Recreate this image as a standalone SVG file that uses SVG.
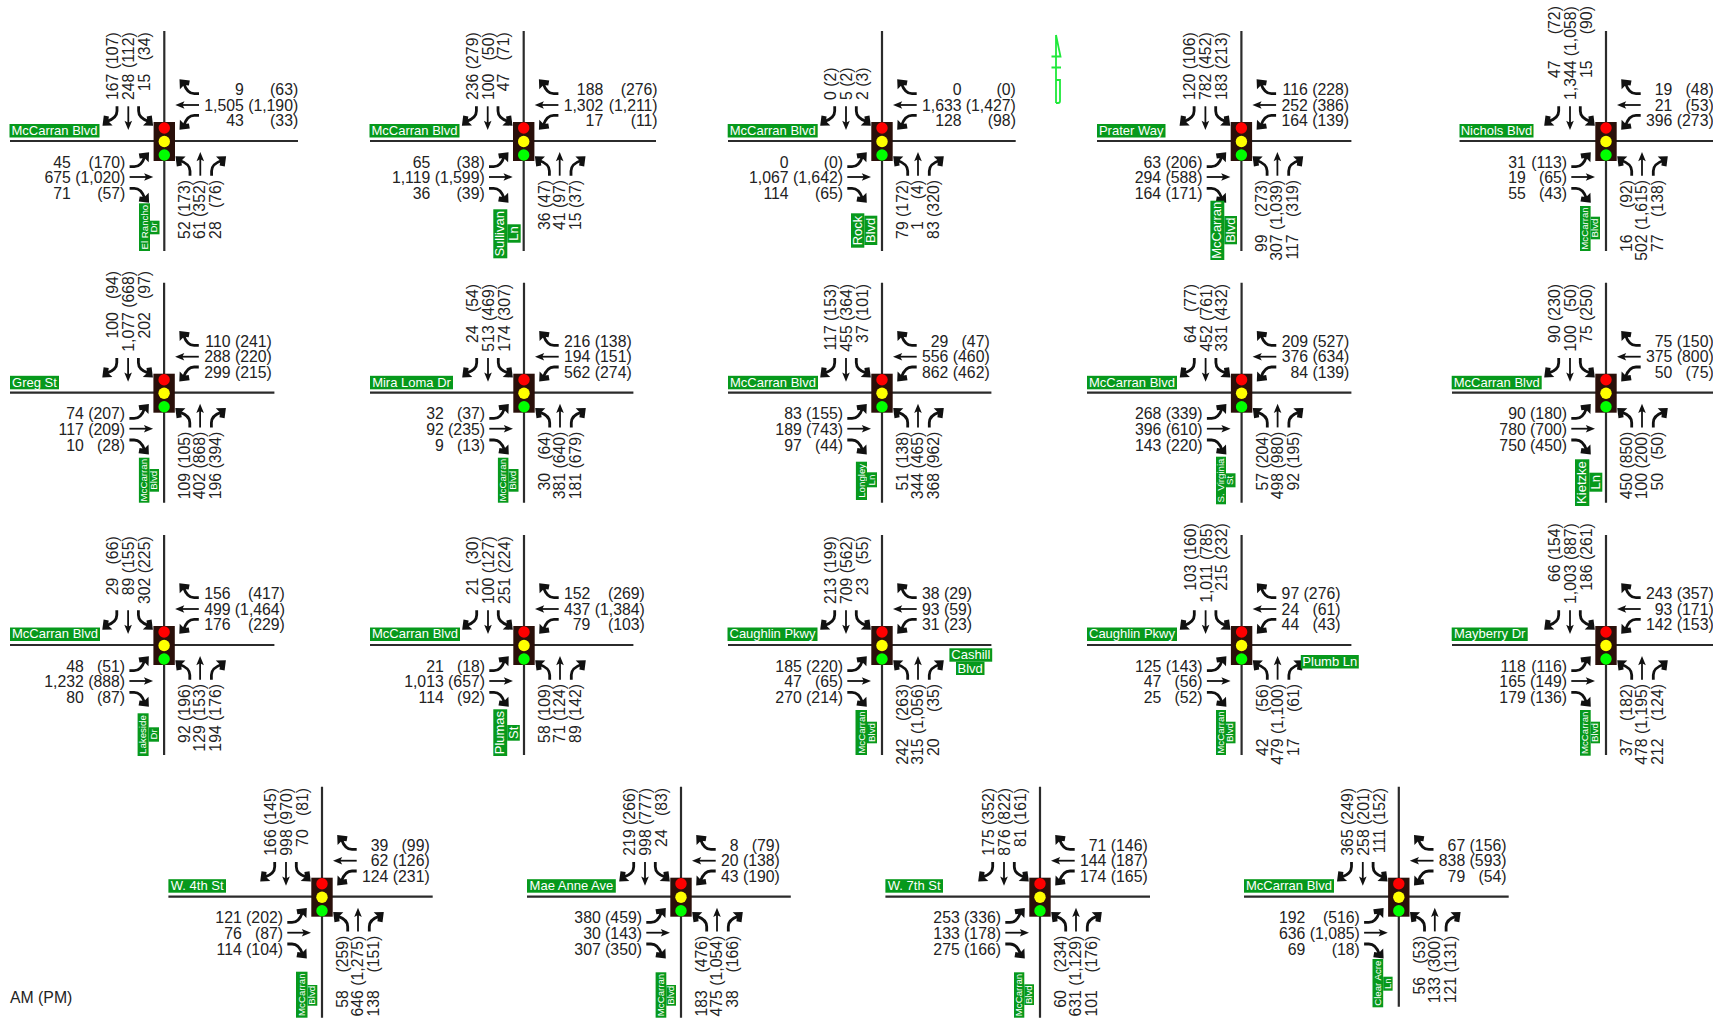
<svg xmlns="http://www.w3.org/2000/svg" width="1713" height="1022" viewBox="0 0 1713 1022">
<style>
text{font-family:"Liberation Sans",Arial,sans-serif}
.v text{font-size:15.8px;fill:#222;text-anchor:end}
.r{transform:rotate(-90deg)}
.g{fill:#07991c}
.l,.s{fill:#fff;text-anchor:middle}
.l{font-size:13px}
.s{font-size:9.7px}
.road{fill:none;stroke:#2b2b2b;stroke-width:2.2}
.sh{fill:none;stroke:#111;stroke-width:2.8}
.sm{fill:none;stroke:#111;stroke-width:1.8}
.hd{fill:#111}
</style>
<defs>
<g id="ap">
<path class="sh" d="M25.7 34.7V30C25.7 25 23 22 15.5 19.5"/><path class="hd" d="M11.2 15.2L21.3 15.6L17 19.8L17.6 24.6L12.5 25.5Z"/>
<path class="sm" d="M36 34.7V16"/><path class="hd" d="M36 11L39.8 20.2L36 18.2L32.2 20.2Z"/>
<path class="sh" d="M47.3 34.7V30C47.3 25 50 22 57.5 19.5"/><path class="hd" d="M61.8 15.2L51.7 15.6L56 19.8L55.4 24.6L60.5 25.5Z"/>
</g>
<g id="mov"><use href="#ap"/><use href="#ap" transform="rotate(90)"/><use href="#ap" transform="rotate(180)"/><use href="#ap" transform="rotate(270)"/></g>
<g id="sig"><rect x="-10.7" y="-19" width="21.4" height="39" fill="#2a100a"/><circle cy="-13" r="5.7" fill="#f00"/><circle cy="0.5" r="5.7" fill="#ff0"/><circle cy="14" r="5.7" fill="#0f0"/></g>
</defs>
<g id="north-arrow" fill="none" stroke="#1fe83a" stroke-width="1.8"><path d="M1056 35V103M1056 35L1060.5 56.5H1051.5M1051.5 67.5H1061M1056 80H1060V101Q1060 103 1058 103H1056"/></g>
<g id="connectors">
<path class="road" d="M164.3 31V251M10 141H298"/><use href="#mov" x="164.3" y="141"/>
<path class="road" d="M523.7 31V251M370 141H656"/><use href="#mov" x="523.7" y="141"/>
<path class="road" d="M882 31V251M728 141H1015.7"/><use href="#mov" x="882" y="141"/>
<path class="road" d="M1241.4 31V251M1097 141H1351.4"/><use href="#mov" x="1241.4" y="141"/>
<path class="road" d="M1606 31V251M1459.5 141H1713"/><use href="#mov" x="1606" y="141"/>
<path class="road" d="M164.1 282.7V502.7M10 392.7H274.4"/><use href="#mov" x="164.1" y="392.7"/>
<path class="road" d="M524 282.7V502.7M370 392.7H633.4"/><use href="#mov" x="524" y="392.7"/>
<path class="road" d="M882 282.7V502.7M728 392.7H991.4"/><use href="#mov" x="882" y="392.7"/>
<path class="road" d="M1241.6 282.7V502.7M1087 392.7H1351.4"/><use href="#mov" x="1241.6" y="392.7"/>
<path class="road" d="M1606 282.7V502.7M1452 392.7H1713"/><use href="#mov" x="1606" y="392.7"/>
<path class="road" d="M164.1 535V755M10 645H274.4"/><use href="#mov" x="164.1" y="645"/>
<path class="road" d="M524 535V755M370 645H633.4"/><use href="#mov" x="524" y="645"/>
<path class="road" d="M882 535V755M728 645H991.4"/><use href="#mov" x="882" y="645"/>
<path class="road" d="M1241.6 535V755M1087 645H1351.4"/><use href="#mov" x="1241.6" y="645"/>
<path class="road" d="M1606 535V755M1452 645H1713"/><use href="#mov" x="1606" y="645"/>
<path class="road" d="M322 786.7V1017.7M168.4 896.7H432.7"/><use href="#mov" x="322" y="896.7"/>
<path class="road" d="M681 786.7V1017.7M527 896.7H790.8"/><use href="#mov" x="681" y="896.7"/>
<path class="road" d="M1040 786.7V1017.7M885.4 896.7H1150"/><use href="#mov" x="1040" y="896.7"/>
<path class="road" d="M1398.8 786.7V1006.7M1244 896.7H1508.7"/><use href="#mov" x="1398.8" y="896.7"/>
</g>

<g id="n1"><g class="v" transform="translate(164.3,141)"><use href="#sig"/>
<g class="r"><text x="67.4" y="-46">167</text><text x="108.7" y="-46">(107)</text><text x="67.4" y="-30">248</text><text x="108.7" y="-30">(112)</text><text x="67.4" y="-14.3">15</text><text x="108.7" y="-14.3">(34)</text>
<text x="-80.3" y="26">52</text><text x="-39" y="26">(173)</text><text x="-80.3" y="41">61</text><text x="-39" y="41">(352)</text><text x="-80.3" y="57">28</text><text x="-39" y="57">(76)</text></g>
<text x="79.5" y="-46">9</text><text x="133.9" y="-46">(63)</text><text x="79.5" y="-30.5">1,505</text><text x="133.9" y="-30.5">(1,190)</text><text x="79.5" y="-15">43</text><text x="133.9" y="-15">(33)</text>
<text x="-93.4" y="26.7">45</text><text x="-39" y="26.7">(170)</text><text x="-93.4" y="42.3">675</text><text x="-39" y="42.3">(1,020)</text><text x="-93.4" y="58">71</text><text x="-39" y="58">(57)</text></g>
<rect class="g" x="9.5" y="124" width="90" height="13.5"/><text class="l" x="54.5" y="135">McCarran Blvd</text>
<rect class="g" x="139" y="203.3" width="11" height="47.7"/><text class="s" transform="translate(147.6,227.2) rotate(-90)">El Rancho</text>
<rect class="g" x="150" y="220.7" width="9.5" height="13.6"/><text class="s" transform="translate(157.3,227.5) rotate(-90)">Dr</text></g>

<g id="n2"><g class="v" transform="translate(523.7,141)"><use href="#sig"/>
<g class="r"><text x="67.4" y="-46">236</text><text x="108.7" y="-46">(279)</text><text x="67.4" y="-30">100</text><text x="108.7" y="-30">(50)</text><text x="67.4" y="-14.3">47</text><text x="108.7" y="-14.3">(71)</text>
<text x="-71.5" y="26">36</text><text x="-39" y="26">(47)</text><text x="-71.5" y="41">41</text><text x="-39" y="41">(97)</text><text x="-71.5" y="57">15</text><text x="-39" y="57">(37)</text></g>
<text x="79.5" y="-46">188</text><text x="133.9" y="-46">(276)</text><text x="79.5" y="-30.5">1,302</text><text x="133.9" y="-30.5">(1,211)</text><text x="79.5" y="-15">17</text><text x="133.9" y="-15">(11)</text>
<text x="-93.4" y="26.7">65</text><text x="-39" y="26.7">(38)</text><text x="-93.4" y="42.3">1,119</text><text x="-39" y="42.3">(1,599)</text><text x="-93.4" y="58">36</text><text x="-39" y="58">(39)</text></g>
<rect class="g" x="369.5" y="124" width="90" height="13.5"/><text class="l" x="414.5" y="135">McCarran Blvd</text>
<rect class="g" x="493.3" y="209.3" width="14" height="49"/><text class="l" transform="translate(504.3,233.8) rotate(-90)">Sullivan</text>
<rect class="g" x="507.3" y="224.3" width="13.4" height="18.4"/><text class="l" transform="translate(518,233.5) rotate(-90)">Ln</text></g>

<g id="n3"><g class="v" transform="translate(882,141)"><use href="#sig"/>
<g class="r"><text x="49.8" y="-46">0</text><text x="73.5" y="-46">(2)</text><text x="49.8" y="-30">5</text><text x="73.5" y="-30">(2)</text><text x="49.8" y="-14.3">2</text><text x="73.5" y="-14.3">(3)</text>
<text x="-80.3" y="26">79</text><text x="-39" y="26">(172)</text><text x="-80.3" y="41">1</text><text x="-39" y="41">(4)</text><text x="-80.3" y="57">83</text><text x="-39" y="57">(320)</text></g>
<text x="79.5" y="-46">0</text><text x="133.9" y="-46">(0)</text><text x="79.5" y="-30.5">1,633</text><text x="133.9" y="-30.5">(1,427)</text><text x="79.5" y="-15">128</text><text x="133.9" y="-15">(98)</text>
<text x="-93.4" y="26.7">0</text><text x="-39" y="26.7">(0)</text><text x="-93.4" y="42.3">1,067</text><text x="-39" y="42.3">(1,642)</text><text x="-93.4" y="58">114</text><text x="-39" y="58">(65)</text></g>
<rect class="g" x="727.7" y="124" width="90" height="13.5"/><text class="l" x="772.7" y="135">McCarran Blvd</text>
<rect class="g" x="851" y="213.3" width="13.3" height="34.4"/><text class="l" transform="translate(861.5,230.5) rotate(-90)">Rock</text>
<rect class="g" x="864.3" y="215.7" width="13" height="29.3"/><text class="l" transform="translate(875,230.4) rotate(-90)">Blvd</text></g>

<g id="n4"><g class="v" transform="translate(1241.4,141)"><use href="#sig"/>
<g class="r"><text x="67.4" y="-46">120</text><text x="108.7" y="-46">(106)</text><text x="67.4" y="-30">782</text><text x="108.7" y="-30">(452)</text><text x="67.4" y="-14.3">183</text><text x="108.7" y="-14.3">(213)</text>
<text x="-93.4" y="26">99</text><text x="-39" y="26">(273)</text><text x="-93.4" y="41">307</text><text x="-39" y="41">(1,039)</text><text x="-93.4" y="57">117</text><text x="-39" y="57">(319)</text></g>
<text x="66.4" y="-46">116</text><text x="107.7" y="-46">(228)</text><text x="66.4" y="-30.5">252</text><text x="107.7" y="-30.5">(386)</text><text x="66.4" y="-15">164</text><text x="107.7" y="-15">(139)</text>
<text x="-80.3" y="26.7">63</text><text x="-39" y="26.7">(206)</text><text x="-80.3" y="42.3">294</text><text x="-39" y="42.3">(588)</text><text x="-80.3" y="58">164</text><text x="-39" y="58">(171)</text></g>
<rect class="g" x="1097" y="124" width="68.5" height="13.5"/><text class="l" x="1131.2" y="135">Prater Way</text>
<rect class="g" x="1210.4" y="200.7" width="13.9" height="59.3"/><text class="l" transform="translate(1221.3,230.3) rotate(-90)">McCarran</text>
<rect class="g" x="1224.3" y="216" width="12.7" height="28.3"/><text class="l" transform="translate(1234.7,230.2) rotate(-90)">Blvd</text></g>

<g id="n5"><g class="v" transform="translate(1606,141)"><use href="#sig"/>
<g class="r"><text x="80.5" y="-46">47</text><text x="134.9" y="-46">(72)</text><text x="80.5" y="-30">1,344</text><text x="134.9" y="-30">(1,058)</text><text x="80.5" y="-14.3">15</text><text x="134.9" y="-14.3">(90)</text>
<text x="-93.4" y="26">16</text><text x="-39" y="26">(92)</text><text x="-93.4" y="41">502</text><text x="-39" y="41">(1,615)</text><text x="-93.4" y="57">77</text><text x="-39" y="57">(138)</text></g>
<text x="66.4" y="-46">19</text><text x="107.7" y="-46">(48)</text><text x="66.4" y="-30.5">21</text><text x="107.7" y="-30.5">(53)</text><text x="66.4" y="-15">396</text><text x="107.7" y="-15">(273)</text>
<text x="-80.3" y="26.7">31</text><text x="-39" y="26.7">(113)</text><text x="-80.3" y="42.3">19</text><text x="-39" y="42.3">(65)</text><text x="-80.3" y="58">55</text><text x="-39" y="58">(43)</text></g>
<rect class="g" x="1459.5" y="124" width="74" height="13.5"/><text class="l" x="1496.5" y="135">Nichols Blvd</text>
<rect class="g" x="1580" y="206" width="10.6" height="45"/><text class="s" transform="translate(1588.3,228.5) rotate(-90)">McCarran</text>
<rect class="g" x="1590.6" y="216.7" width="9.4" height="22.6"/><text class="s" transform="translate(1597.9,228) rotate(-90)">Blvd</text></g>

<g id="n6"><g class="v" transform="translate(164.1,392.7)"><use href="#sig"/>
<g class="r"><text x="80.5" y="-46">100</text><text x="121.8" y="-46">(94)</text><text x="80.5" y="-30">1,077</text><text x="121.8" y="-30">(668)</text><text x="80.5" y="-14.3">202</text><text x="121.8" y="-14.3">(97)</text>
<text x="-80.3" y="26">109</text><text x="-39" y="26">(105)</text><text x="-80.3" y="41">402</text><text x="-39" y="41">(868)</text><text x="-80.3" y="57">196</text><text x="-39" y="57">(394)</text></g>
<text x="66.4" y="-46">110</text><text x="107.7" y="-46">(241)</text><text x="66.4" y="-30.5">288</text><text x="107.7" y="-30.5">(220)</text><text x="66.4" y="-15">299</text><text x="107.7" y="-15">(215)</text>
<text x="-80.3" y="26.7">74</text><text x="-39" y="26.7">(207)</text><text x="-80.3" y="42.3">117</text><text x="-39" y="42.3">(209)</text><text x="-80.3" y="58">10</text><text x="-39" y="58">(28)</text></g>
<rect class="g" x="10" y="375.8" width="49" height="13.5"/><text class="l" x="34.5" y="386.7">Greg St</text>
<rect class="g" x="138.9" y="457.7" width="10.5" height="45"/><text class="s" transform="translate(147.1,480.2) rotate(-90)">McCarran</text>
<rect class="g" x="149.4" y="469" width="9.6" height="22.7"/><text class="s" transform="translate(156.8,480.3) rotate(-90)">Blvd</text></g>

<g id="n7"><g class="v" transform="translate(524,392.7)"><use href="#sig"/>
<g class="r"><text x="67.4" y="-46">24</text><text x="108.7" y="-46">(54)</text><text x="67.4" y="-30">513</text><text x="108.7" y="-30">(469)</text><text x="67.4" y="-14.3">174</text><text x="108.7" y="-14.3">(307)</text>
<text x="-80.3" y="26">30</text><text x="-39" y="26">(64)</text><text x="-80.3" y="41">381</text><text x="-39" y="41">(640)</text><text x="-80.3" y="57">181</text><text x="-39" y="57">(679)</text></g>
<text x="66.4" y="-46">216</text><text x="107.7" y="-46">(138)</text><text x="66.4" y="-30.5">194</text><text x="107.7" y="-30.5">(151)</text><text x="66.4" y="-15">562</text><text x="107.7" y="-15">(274)</text>
<text x="-80.3" y="26.7">32</text><text x="-39" y="26.7">(37)</text><text x="-80.3" y="42.3">92</text><text x="-39" y="42.3">(235)</text><text x="-80.3" y="58">9</text><text x="-39" y="58">(13)</text></g>
<rect class="g" x="370" y="375.8" width="83" height="13.5"/><text class="l" x="411.5" y="386.7">Mira Loma Dr</text>
<rect class="g" x="497.9" y="457.7" width="10.5" height="45"/><text class="s" transform="translate(506.1,480.2) rotate(-90)">McCarran</text>
<rect class="g" x="508.4" y="469" width="10.1" height="22.7"/><text class="s" transform="translate(516.2,480.3) rotate(-90)">Blvd</text></g>

<g id="n8"><g class="v" transform="translate(882,392.7)"><use href="#sig"/>
<g class="r"><text x="67.4" y="-46">117</text><text x="108.7" y="-46">(153)</text><text x="67.4" y="-30">455</text><text x="108.7" y="-30">(364)</text><text x="67.4" y="-14.3">37</text><text x="108.7" y="-14.3">(101)</text>
<text x="-80.3" y="26">51</text><text x="-39" y="26">(138)</text><text x="-80.3" y="41">344</text><text x="-39" y="41">(465)</text><text x="-80.3" y="57">368</text><text x="-39" y="57">(962)</text></g>
<text x="66.4" y="-46">29</text><text x="107.7" y="-46">(47)</text><text x="66.4" y="-30.5">556</text><text x="107.7" y="-30.5">(460)</text><text x="66.4" y="-15">862</text><text x="107.7" y="-15">(462)</text>
<text x="-80.3" y="26.7">83</text><text x="-39" y="26.7">(155)</text><text x="-80.3" y="42.3">189</text><text x="-39" y="42.3">(743)</text><text x="-80.3" y="58">97</text><text x="-39" y="58">(44)</text></g>
<rect class="g" x="728" y="375.8" width="90" height="13.5"/><text class="l" x="773" y="386.7">McCarran Blvd</text>
<rect class="g" x="855.9" y="461.7" width="11.1" height="38.3"/><text class="s" transform="translate(864.7,480.8) rotate(-90)">Longley</text>
<rect class="g" x="867" y="472.3" width="10" height="15"/><text class="s" transform="translate(874.7,480) rotate(-90)">Ln</text></g>

<g id="n9"><g class="v" transform="translate(1241.6,392.7)"><use href="#sig"/>
<g class="r"><text x="67.4" y="-46">64</text><text x="108.7" y="-46">(77)</text><text x="67.4" y="-30">452</text><text x="108.7" y="-30">(761)</text><text x="67.4" y="-14.3">331</text><text x="108.7" y="-14.3">(432)</text>
<text x="-80.3" y="26">57</text><text x="-39" y="26">(204)</text><text x="-80.3" y="41">498</text><text x="-39" y="41">(980)</text><text x="-80.3" y="57">92</text><text x="-39" y="57">(195)</text></g>
<text x="66.4" y="-46">209</text><text x="107.7" y="-46">(527)</text><text x="66.4" y="-30.5">376</text><text x="107.7" y="-30.5">(634)</text><text x="66.4" y="-15">84</text><text x="107.7" y="-15">(139)</text>
<text x="-80.3" y="26.7">268</text><text x="-39" y="26.7">(339)</text><text x="-80.3" y="42.3">396</text><text x="-39" y="42.3">(610)</text><text x="-80.3" y="58">143</text><text x="-39" y="58">(220)</text></g>
<rect class="g" x="1087" y="375.8" width="90" height="13.5"/><text class="l" x="1132" y="386.7">McCarran Blvd</text>
<rect class="g" x="1216" y="456.7" width="10" height="47.6"/><text class="s" transform="translate(1224,480.5) rotate(-90)">S. Virginia</text>
<rect class="g" x="1226" y="473.3" width="9.5" height="14"/><text class="s" transform="translate(1233.3,480.3) rotate(-90)">St</text></g>

<g id="n10"><g class="v" transform="translate(1606,392.7)"><use href="#sig"/>
<g class="r"><text x="67.4" y="-46">90</text><text x="108.7" y="-46">(230)</text><text x="67.4" y="-30">100</text><text x="108.7" y="-30">(50)</text><text x="67.4" y="-14.3">75</text><text x="108.7" y="-14.3">(250)</text>
<text x="-80.3" y="26">450</text><text x="-39" y="26">(850)</text><text x="-80.3" y="41">100</text><text x="-39" y="41">(200)</text><text x="-80.3" y="57">50</text><text x="-39" y="57">(50)</text></g>
<text x="66.4" y="-46">75</text><text x="107.7" y="-46">(150)</text><text x="66.4" y="-30.5">375</text><text x="107.7" y="-30.5">(800)</text><text x="66.4" y="-15">50</text><text x="107.7" y="-15">(75)</text>
<text x="-80.3" y="26.7">90</text><text x="-39" y="26.7">(180)</text><text x="-80.3" y="42.3">780</text><text x="-39" y="42.3">(700)</text><text x="-80.3" y="58">750</text><text x="-39" y="58">(450)</text></g>
<rect class="g" x="1451.7" y="375.8" width="90" height="13.5"/><text class="l" x="1496.7" y="386.7">McCarran Blvd</text>
<rect class="g" x="1575" y="459.3" width="14.3" height="46.7"/><text class="l" transform="translate(1586,482.6) rotate(-90)">Kietzke</text>
<rect class="g" x="1589.3" y="472.7" width="13" height="19"/><text class="l" transform="translate(1599.5,482.2) rotate(-90)">Ln</text></g>

<g id="n11"><g class="v" transform="translate(164.1,645)"><use href="#sig"/>
<g class="r"><text x="67.4" y="-46">29</text><text x="108.7" y="-46">(66)</text><text x="67.4" y="-30">89</text><text x="108.7" y="-30">(155)</text><text x="67.4" y="-14.3">302</text><text x="108.7" y="-14.3">(225)</text>
<text x="-80.3" y="26">92</text><text x="-39" y="26">(196)</text><text x="-80.3" y="41">129</text><text x="-39" y="41">(153)</text><text x="-80.3" y="57">194</text><text x="-39" y="57">(176)</text></g>
<text x="66.4" y="-46">156</text><text x="120.8" y="-46">(417)</text><text x="66.4" y="-30.5">499</text><text x="120.8" y="-30.5">(1,464)</text><text x="66.4" y="-15">176</text><text x="120.8" y="-15">(229)</text>
<text x="-80.3" y="26.7">48</text><text x="-39" y="26.7">(51)</text><text x="-80.3" y="42.3">1,232</text><text x="-39" y="42.3">(888)</text><text x="-80.3" y="58">80</text><text x="-39" y="58">(87)</text></g>
<rect class="g" x="10" y="627.5" width="90" height="13.5"/><text class="l" x="55" y="638">McCarran Blvd</text>
<rect class="g" x="137.6" y="713.3" width="11" height="42.7"/><text class="s" transform="translate(146.3,734.6) rotate(-90)">Lakeside</text>
<rect class="g" x="148.6" y="727.3" width="10.4" height="14.4"/><text class="s" transform="translate(156.6,734.5) rotate(-90)">Dr</text></g>

<g id="n12"><g class="v" transform="translate(524,645)"><use href="#sig"/>
<g class="r"><text x="67.4" y="-46">21</text><text x="108.7" y="-46">(30)</text><text x="67.4" y="-30">100</text><text x="108.7" y="-30">(127)</text><text x="67.4" y="-14.3">251</text><text x="108.7" y="-14.3">(224)</text>
<text x="-80.3" y="26">58</text><text x="-39" y="26">(109)</text><text x="-80.3" y="41">71</text><text x="-39" y="41">(124)</text><text x="-80.3" y="57">89</text><text x="-39" y="57">(142)</text></g>
<text x="66.4" y="-46">152</text><text x="120.8" y="-46">(269)</text><text x="66.4" y="-30.5">437</text><text x="120.8" y="-30.5">(1,384)</text><text x="66.4" y="-15">79</text><text x="120.8" y="-15">(103)</text>
<text x="-80.3" y="26.7">21</text><text x="-39" y="26.7">(18)</text><text x="-80.3" y="42.3">1,013</text><text x="-39" y="42.3">(657)</text><text x="-80.3" y="58">114</text><text x="-39" y="58">(92)</text></g>
<rect class="g" x="370" y="627.5" width="90" height="13.5"/><text class="l" x="415" y="638">McCarran Blvd</text>
<rect class="g" x="493.3" y="709.3" width="13.9" height="46.7"/><text class="l" transform="translate(504.2,732.6) rotate(-90)">Plumas</text>
<rect class="g" x="507.2" y="725" width="12.6" height="15.7"/><text class="l" transform="translate(517.5,732.8) rotate(-90)">St</text></g>

<g id="n13"><g class="v" transform="translate(882,645)"><use href="#sig"/>
<g class="r"><text x="67.4" y="-46">213</text><text x="108.7" y="-46">(199)</text><text x="67.4" y="-30">709</text><text x="108.7" y="-30">(562)</text><text x="67.4" y="-14.3">23</text><text x="108.7" y="-14.3">(55)</text>
<text x="-93.4" y="26">242</text><text x="-39" y="26">(263)</text><text x="-93.4" y="41">315</text><text x="-39" y="41">(1,056)</text><text x="-93.4" y="57">20</text><text x="-39" y="57">(35)</text></g>
<text x="57.6" y="-46">38</text><text x="90.1" y="-46">(29)</text><text x="57.6" y="-30.5">93</text><text x="90.1" y="-30.5">(59)</text><text x="57.6" y="-15">31</text><text x="90.1" y="-15">(23)</text>
<text x="-80.3" y="26.7">185</text><text x="-39" y="26.7">(220)</text><text x="-80.3" y="42.3">47</text><text x="-39" y="42.3">(65)</text><text x="-80.3" y="58">270</text><text x="-39" y="58">(214)</text></g>
<rect class="g" x="727.5" y="627.5" width="90" height="13.5"/><text class="l" x="772.5" y="638">Caughlin Pkwy</text>
<rect class="g" x="949.4" y="648.3" width="42.8" height="13.4"/><text class="l" x="970.8" y="659">Cashill</text>
<rect class="g" x="956" y="661.7" width="28.5" height="13.3"/><text class="l" x="970.2" y="672.5">Blvd</text>
<rect class="g" x="855.5" y="710" width="11.5" height="45"/><text class="s" transform="translate(864.7,732.5) rotate(-90)">McCarran</text>
<rect class="g" x="867" y="721.7" width="10" height="21.6"/><text class="s" transform="translate(874.7,732.5) rotate(-90)">Blvd</text></g>

<g id="n14"><g class="v" transform="translate(1241.6,645)"><use href="#sig"/>
<g class="r"><text x="80.5" y="-46">103</text><text x="121.8" y="-46">(160)</text><text x="80.5" y="-30">1,011</text><text x="121.8" y="-30">(785)</text><text x="80.5" y="-14.3">215</text><text x="121.8" y="-14.3">(232)</text>
<text x="-93.4" y="26">42</text><text x="-39" y="26">(56)</text><text x="-93.4" y="41">479</text><text x="-39" y="41">(1,100)</text><text x="-93.4" y="57">17</text><text x="-39" y="57">(61)</text></g>
<text x="57.6" y="-46">97</text><text x="98.9" y="-46">(276)</text><text x="57.6" y="-30.5">24</text><text x="98.9" y="-30.5">(61)</text><text x="57.6" y="-15">44</text><text x="98.9" y="-15">(43)</text>
<text x="-80.3" y="26.7">125</text><text x="-39" y="26.7">(143)</text><text x="-80.3" y="42.3">47</text><text x="-39" y="42.3">(56)</text><text x="-80.3" y="58">25</text><text x="-39" y="58">(52)</text></g>
<rect class="g" x="1087" y="627.5" width="90" height="13.5"/><text class="l" x="1132" y="638">Caughlin Pkwy</text>
<rect class="g" x="1300.8" y="655" width="58" height="13.5"/><text class="l" x="1329.8" y="666">Plumb Ln</text>
<rect class="g" x="1216" y="710" width="10" height="45"/><text class="s" transform="translate(1224,732.5) rotate(-90)">McCarran</text>
<rect class="g" x="1226" y="721.7" width="9.5" height="21.6"/><text class="s" transform="translate(1233.3,732.5) rotate(-90)">Blvd</text></g>

<g id="n15"><g class="v" transform="translate(1606,645)"><use href="#sig"/>
<g class="r"><text x="80.5" y="-46">66</text><text x="121.8" y="-46">(154)</text><text x="80.5" y="-30">1,003</text><text x="121.8" y="-30">(887)</text><text x="80.5" y="-14.3">186</text><text x="121.8" y="-14.3">(261)</text>
<text x="-93.4" y="26">37</text><text x="-39" y="26">(182)</text><text x="-93.4" y="41">478</text><text x="-39" y="41">(1,195)</text><text x="-93.4" y="57">212</text><text x="-39" y="57">(124)</text></g>
<text x="66.4" y="-46">243</text><text x="107.7" y="-46">(357)</text><text x="66.4" y="-30.5">93</text><text x="107.7" y="-30.5">(171)</text><text x="66.4" y="-15">142</text><text x="107.7" y="-15">(153)</text>
<text x="-80.3" y="26.7">118</text><text x="-39" y="26.7">(116)</text><text x="-80.3" y="42.3">165</text><text x="-39" y="42.3">(149)</text><text x="-80.3" y="58">179</text><text x="-39" y="58">(136)</text></g>
<rect class="g" x="1451.7" y="627.5" width="76" height="13.5"/><text class="l" x="1489.7" y="638">Mayberry Dr</text>
<rect class="g" x="1580" y="710" width="10.7" height="45.7"/><text class="s" transform="translate(1588.4,732.8) rotate(-90)">McCarran</text>
<rect class="g" x="1590.7" y="721.7" width="9.3" height="21.6"/><text class="s" transform="translate(1597.9,732.5) rotate(-90)">Blvd</text></g>

<g id="n16"><g class="v" transform="translate(322,896.7)"><use href="#sig"/>
<g class="r"><text x="67.4" y="-46">166</text><text x="108.7" y="-46">(145)</text><text x="67.4" y="-30">998</text><text x="108.7" y="-30">(970)</text><text x="67.4" y="-14.3">70</text><text x="108.7" y="-14.3">(81)</text>
<text x="-93.4" y="26">58</text><text x="-39" y="26">(259)</text><text x="-93.4" y="41">646</text><text x="-39" y="41">(1,275)</text><text x="-93.4" y="57">138</text><text x="-39" y="57">(151)</text></g>
<text x="66.4" y="-46">39</text><text x="107.7" y="-46">(99)</text><text x="66.4" y="-30.5">62</text><text x="107.7" y="-30.5">(126)</text><text x="66.4" y="-15">124</text><text x="107.7" y="-15">(231)</text>
<text x="-80.3" y="26.7">121</text><text x="-39" y="26.7">(202)</text><text x="-80.3" y="42.3">76</text><text x="-39" y="42.3">(87)</text><text x="-80.3" y="58">114</text><text x="-39" y="58">(104)</text></g>
<rect class="g" x="168.4" y="879.2" width="57.6" height="13.5"/><text class="l" x="197.2" y="890">W. 4th St</text>
<rect class="g" x="296" y="971.7" width="11.5" height="46"/><text class="s" transform="translate(305.2,994.7) rotate(-90)">McCarran</text>
<rect class="g" x="307.5" y="985" width="9.8" height="20.7"/><text class="s" transform="translate(315,995.3) rotate(-90)">Blvd</text></g>

<g id="n17"><g class="v" transform="translate(681,896.7)"><use href="#sig"/>
<g class="r"><text x="67.4" y="-46">219</text><text x="108.7" y="-46">(266)</text><text x="67.4" y="-30">998</text><text x="108.7" y="-30">(777)</text><text x="67.4" y="-14.3">24</text><text x="108.7" y="-14.3">(83)</text>
<text x="-93.4" y="26">183</text><text x="-39" y="26">(476)</text><text x="-93.4" y="41">475</text><text x="-39" y="41">(1,054)</text><text x="-93.4" y="57">38</text><text x="-39" y="57">(166)</text></g>
<text x="57.6" y="-46">8</text><text x="98.9" y="-46">(79)</text><text x="57.6" y="-30.5">20</text><text x="98.9" y="-30.5">(138)</text><text x="57.6" y="-15">43</text><text x="98.9" y="-15">(190)</text>
<text x="-80.3" y="26.7">380</text><text x="-39" y="26.7">(459)</text><text x="-80.3" y="42.3">30</text><text x="-39" y="42.3">(143)</text><text x="-80.3" y="58">307</text><text x="-39" y="58">(350)</text></g>
<rect class="g" x="527" y="879.2" width="88.8" height="13.5"/><text class="l" x="571.4" y="890">Mae Anne Ave</text>
<rect class="g" x="655.6" y="972.3" width="10.7" height="45.4"/><text class="s" transform="translate(664,995) rotate(-90)">McCarran</text>
<rect class="g" x="666.3" y="985" width="9.7" height="20.7"/><text class="s" transform="translate(673.8,995.3) rotate(-90)">Blvd</text></g>

<g id="n18"><g class="v" transform="translate(1040,896.7)"><use href="#sig"/>
<g class="r"><text x="67.4" y="-46">175</text><text x="108.7" y="-46">(352)</text><text x="67.4" y="-30">876</text><text x="108.7" y="-30">(822)</text><text x="67.4" y="-14.3">81</text><text x="108.7" y="-14.3">(161)</text>
<text x="-93.4" y="26">60</text><text x="-39" y="26">(234)</text><text x="-93.4" y="41">631</text><text x="-39" y="41">(1,129)</text><text x="-93.4" y="57">101</text><text x="-39" y="57">(176)</text></g>
<text x="66.4" y="-46">71</text><text x="107.7" y="-46">(146)</text><text x="66.4" y="-30.5">144</text><text x="107.7" y="-30.5">(187)</text><text x="66.4" y="-15">174</text><text x="107.7" y="-15">(165)</text>
<text x="-80.3" y="26.7">253</text><text x="-39" y="26.7">(336)</text><text x="-80.3" y="42.3">133</text><text x="-39" y="42.3">(178)</text><text x="-80.3" y="58">275</text><text x="-39" y="58">(166)</text></g>
<rect class="g" x="885.4" y="879.2" width="57.6" height="13.5"/><text class="l" x="914.2" y="890">W. 7th St</text>
<rect class="g" x="1014" y="972.3" width="10.3" height="45.4"/><text class="s" transform="translate(1022.1,995) rotate(-90)">McCarran</text>
<rect class="g" x="1024.3" y="984.3" width="9.7" height="20.7"/><text class="s" transform="translate(1031.8,994.7) rotate(-90)">Blvd</text></g>

<g id="n19"><g class="v" transform="translate(1398.8,896.7)"><use href="#sig"/>
<g class="r"><text x="67.4" y="-46">365</text><text x="108.7" y="-46">(249)</text><text x="67.4" y="-30">258</text><text x="108.7" y="-30">(201)</text><text x="67.4" y="-14.3">111</text><text x="108.7" y="-14.3">(152)</text>
<text x="-80.3" y="26">56</text><text x="-39" y="26">(53)</text><text x="-80.3" y="41">133</text><text x="-39" y="41">(300)</text><text x="-80.3" y="57">121</text><text x="-39" y="57">(131)</text></g>
<text x="66.4" y="-46">67</text><text x="107.7" y="-46">(156)</text><text x="66.4" y="-30.5">838</text><text x="107.7" y="-30.5">(593)</text><text x="66.4" y="-15">79</text><text x="107.7" y="-15">(54)</text>
<text x="-93.4" y="26.7">192</text><text x="-39" y="26.7">(516)</text><text x="-93.4" y="42.3">636</text><text x="-39" y="42.3">(1,085)</text><text x="-93.4" y="58">69</text><text x="-39" y="58">(18)</text></g>
<rect class="g" x="1244" y="879.2" width="90" height="13.5"/><text class="l" x="1289" y="890">McCarran Blvd</text>
<rect class="g" x="1372.5" y="959" width="10.7" height="48.3"/><text class="s" transform="translate(1381,983.2) rotate(-90)">Clear Acre</text>
<rect class="g" x="1383.2" y="976.7" width="9.4" height="14"/><text class="s" transform="translate(1390.5,983.7) rotate(-90)">Ln</text></g>

<text id="legend" x="10" y="1003" font-size="15.8" fill="#222">AM (PM)</text>
</svg>
